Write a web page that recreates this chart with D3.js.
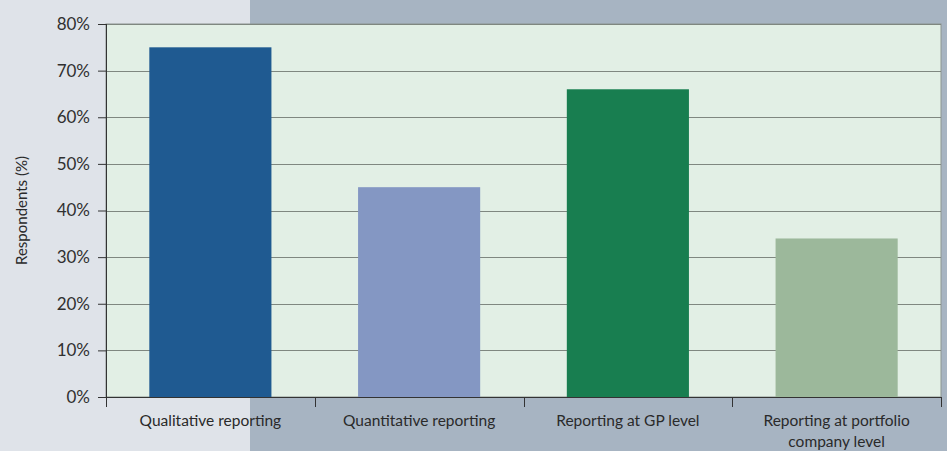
<!DOCTYPE html>
<html>
<head>
<meta charset="utf-8">
<script src="https://cdn.jsdelivr.net/npm/d3@7"></script>
<style>
  body { margin: 0; overflow: hidden; }
  svg { display: block; }
</style>
</head>
<body>
<script>
'use strict';

// chart values
const categories = ["Qualitative reporting", "Quantitative reporting", "Reporting at GP level", "Reporting at portfolio company level"];
const values = [75, 45, 66, 34];
const barColors = ["#1f5a91", "#8497c3", "#187e50", "#9cb89b"];
const yTicks = [0, 10, 20, 30, 40, 50, 60, 70, 80];

const W = 947, H = 451;
const margin = {top: 24, right: 6, bottom: 54, left: 106};

const svg = d3.select('body').append('svg')
  .attr('width', W)
  .attr('height', H);

// background panels
svg.append('rect').attr('x', 0).attr('y', 0).attr('width', W).attr('height', H).attr('fill', '#dfe3e9');
svg.append('rect').attr('x', 250).attr('y', 0).attr('width', W - 250).attr('height', H).attr('fill', '#a7b4c2');

const x = d3.scaleBand()
  .domain(categories)
  .range([margin.left, W - margin.right])
  .paddingInner(0.415)
  .paddingOuter(0.2075);

const y = d3.scaleLinear()
  .domain([0, 80])
  .range([H - margin.bottom, margin.top]);

// plot area
svg.append('rect')
  .attr('x', margin.left)
  .attr('y', margin.top)
  .attr('width', W - margin.right - margin.left)
  .attr('height', y(0) - margin.top)
  .attr('fill', '#e2efe5')
  .attr('stroke', '#8c9490')
  .attr('stroke-width', 1);

// gridlines
svg.append('g')
  .selectAll('line')
  .data(yTicks.filter(d => d > 0))
  .enter()
  .append('line')
  .attr('x1', margin.left)
  .attr('x2', W - margin.right)
  .attr('y1', d => Math.round(y(d)) + 0.5)
  .attr('y2', d => Math.round(y(d)) + 0.5)
  .attr('stroke', '#7f8780')
  .attr('stroke-width', 1);

// bars
svg.append('g')
  .selectAll('rect')
  .data(values)
  .enter()
  .append('rect')
  .attr('x', (d, i) => x(categories[i]))
  .attr('y', d => y(d))
  .attr('width', x.bandwidth())
  .attr('height', d => y(0) - y(d))
  .attr('fill', (d, i) => barColors[i]);

const font = 'Lato, "Open Sans", sans-serif';

// y axis
const yAxis = svg.append('g')
  .attr('transform', 'translate(' + margin.left + ',0)')
  .call(d3.axisLeft(y).tickValues(yTicks).tickFormat(d => d + '%').tickSize(8).tickSizeOuter(0))
  .style('font-family', font)
  .style('font-size', '17px');
yAxis.select('.domain').attr('stroke', '#333').attr('d', 'M0.5,' + margin.top + 'V' + (y(0) + 10));
yAxis.selectAll('.tick line').attr('stroke', '#333');
yAxis.selectAll('.tick text').attr('fill', '#303030').attr('x', -16);

// x axis: tick marks at band edges
const xg = svg.append('g')
  .attr('transform', 'translate(0,' + y(0) + ')');
xg.append('line')
  .attr('x1', margin.left)
  .attr('x2', W - margin.right)
  .attr('y1', 0.5).attr('y2', 0.5)
  .attr('stroke', '#333');
const step = x.step();
xg.selectAll('.edge')
  .data(categories)
  .enter()
  .append('line')
  .attr('x1', d => Math.round(x(d) - x.paddingOuter() * step + step) + 0.5)
  .attr('x2', d => Math.round(x(d) - x.paddingOuter() * step + step) + 0.5)
  .attr('y1', 0).attr('y2', 10)
  .attr('stroke', '#333');

// category labels
const labelLines = [["Qualitative reporting"], ["Quantitative reporting"], ["Reporting at GP level"], ["Reporting at portfolio", "company level"]];
xg.selectAll('.lab')
  .data(categories)
  .enter()
  .append('text')
  .attr('text-anchor', 'middle')
  .attr('y', 29)
  .style('font-family', font)
  .style('font-size', '15.5px')
  .attr('fill', '#2a2a2a')
  .each(function(d, i) {
    const t = d3.select(this);
    labelLines[i].forEach((ln, j) => {
      t.append('tspan')
        .attr('x', x(d) + x.bandwidth() / 2)
        .attr('dy', j === 0 ? 0 : 21)
        .text(ln);
    });
  });

// y axis title
svg.append('text')
  .attr('transform', 'translate(27,' + ((margin.top + y(0)) / 2) + ')rotate(-90)')
  .attr('text-anchor', 'middle')
  .style('font-family', font)
  .style('font-size', '15px')
  .attr('fill', '#2a2a2a')
  .text('Respondents (%)');
</script>
</body>
</html>
